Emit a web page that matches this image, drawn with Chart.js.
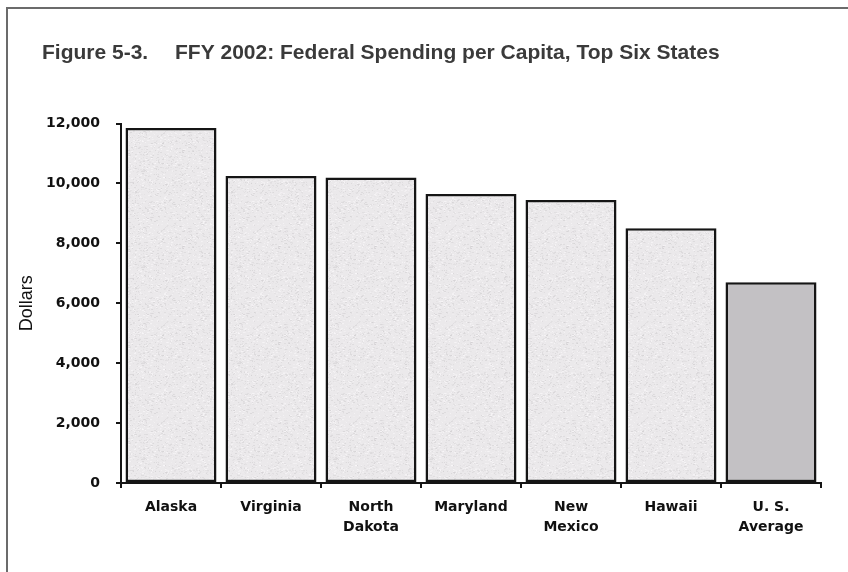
<!DOCTYPE html>
<html>
<head>
<meta charset="utf-8">
<title>FFY 2002: Federal Spending per Capita</title>
<script src="https://cdn.jsdelivr.net/npm/chart.js@4.4.1/dist/chart.umd.min.js"></script>
<style>
  html, body { margin: 0; padding: 0; background: #fff; }
  #wrap { position: relative; width: 848px; height: 572px; overflow: hidden; }
  /* page frame: only the top and left edges fall inside the view */
  #frame {
    position: absolute; left: 6px; top: 7px; right: -20px; bottom: -20px;
    border-top: 2px solid #6b6b6b; border-left: 2px solid #6b6b6b;
  }
  #chart { position: absolute; left: 0; top: 0; }
</style>
</head>
<body>
<div id="wrap">
  <div id="frame"></div>
  <canvas id="chart" width="848" height="572"></canvas>
</div>
<script>
// ---- data ----
const states = [
  'Alaska', 'Virginia', ['North', 'Dakota'], 'Maryland',
  ['New', 'Mexico'], 'Hawaii', ['U. S.', 'Average']
];
const spendingPerCapita = [11850, 10250, 10200, 9650, 9450, 8500, 6700];
const yTickValues = [0, 2000, 4000, 6000, 8000, 10000, 12000];

const figureNumber = 'Figure 5-3.';
const figureTitle = 'FFY 2002: Federal Spending per Capita, Top Six States';

// ---- speckled grey fill for the state bars ----
function speckle() {
  const c = document.createElement('canvas');
  c.width = 96; c.height = 96;
  const g = c.getContext('2d');
  g.fillStyle = '#ebe9eb';
  g.fillRect(0, 0, 96, 96);
  let seed = 20021;
  const rnd = () => (seed = (seed * 16807) % 2147483647) / 2147483647;
  for (let i = 0; i < 2600; i++) {
    const x = Math.floor(rnd() * 96), y = Math.floor(rnd() * 96);
    const v = Math.round(205 + rnd() * 50);
    g.fillStyle = `rgba(${v},${v - 2},${v},0.55)`;
    g.fillRect(x, y, 1 + Math.round(rnd()), 1);
  }
  return g.createPattern(c, 'repeat');
}

const stateFill = speckle();
const averageFill = '#c3c1c4';
const barColors = spendingPerCapita.map((_, i) => i === spendingPerCapita.length - 1 ? averageFill : stateFill);

// heading drawn above the plot
const headingPlugin = {
  id: 'heading',
  afterDraw(chart) {
    const ctx = chart.ctx;
    ctx.save();
    ctx.font = 'bold 21px "Liberation Sans", Arial, sans-serif';
    ctx.fillStyle = '#3a3a3a';
    ctx.textBaseline = 'alphabetic';
    ctx.fillText(figureNumber, 42, 59);
    ctx.fillText(figureTitle, 175, 59);
    ctx.restore();
  }
};

const tickFont = { family: '"DejaVu Sans", Verdana, sans-serif', size: 14, weight: 'bold' };

new Chart(document.getElementById('chart'), {
  type: 'bar',
  data: {
    labels: states,
    datasets: [{
      data: spendingPerCapita,
      backgroundColor: barColors,
      borderColor: '#151515',
      borderWidth: 2.5,
      borderSkipped: false,
      barPercentage: 0.91,
      categoryPercentage: 1
    }]
  },
  options: {
    responsive: false,
    animation: false,
    devicePixelRatio: 1,
    layout: { padding: { top: 123.5, right: 27, bottom: 29, left: 0 } },
    plugins: {
      legend: { display: false },
      tooltip: { enabled: false }
    },
    scales: {
      x: {
        grid: { offset: true, drawOnChartArea: false, tickLength: 5, color: '#151515', lineWidth: 2 },
        border: { color: '#151515', width: 2 },
        ticks: {
          color: '#111',
          font: { ...tickFont, lineHeight: 20 / 14 },
          padding: 9.5,
          maxRotation: 0,
          autoSkip: false
        },
        afterFit: s => { s.height = 60; }
      },
      y: {
        min: 0,
        max: 12000,
        afterBuildTicks: s => { s.ticks = yTickValues.map(v => ({ value: v })); },
        grid: { drawOnChartArea: false, tickLength: 5, color: '#151515', lineWidth: 2 },
        border: { color: '#151515', width: 2 },
        ticks: {
          color: '#111',
          font: tickFont,
          padding: 16,
          callback: v => v.toLocaleString('en-US')
        },
        title: {
          display: true,
          text: 'Dollars',
          color: '#111',
          font: { family: '"Liberation Sans", Arial, sans-serif', size: 18 },
          padding: { top: 16, bottom: 0 }
        },
        afterFit: s => { s.width = 121; }
      }
    }
  },
  plugins: [headingPlugin]
});
</script>
</body>
</html>
